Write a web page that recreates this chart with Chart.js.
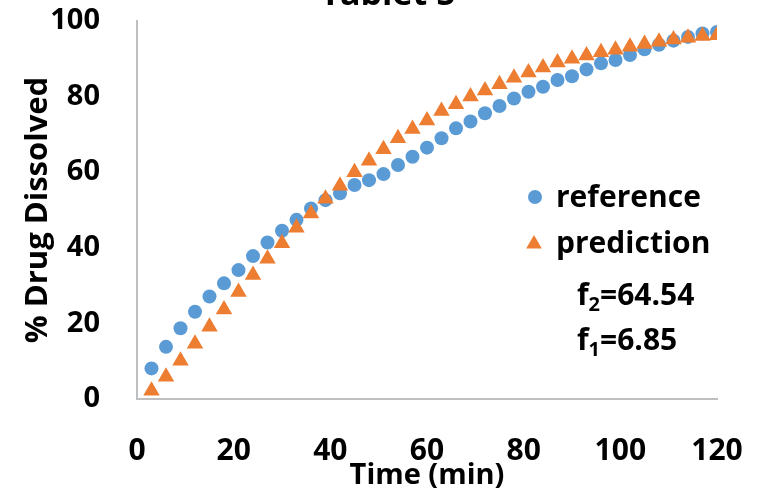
<!DOCTYPE html>
<html>
<head>
<meta charset="utf-8">
<script src="https://cdn.jsdelivr.net/npm/chart.js@4.4.1/dist/chart.umd.min.js"></script>
<style>
  html, body { margin: 0; padding: 0; background: #fff; }
  #wrap { width: 774px; height: 494px; }
</style>
</head>
<body>
<div id="wrap"><canvas id="myChart"></canvas></div>
<script>
const times = [3, 6, 9, 12, 15, 18, 21, 24, 27, 30, 33, 36, 39, 42, 45, 48, 51, 54, 57, 60,
  63, 66, 69, 72, 75, 78, 81, 84, 87, 90, 93, 96, 99, 102, 105, 108, 111, 114, 117, 120];
const reference = [8.1, 13.8, 18.7, 23.1, 27.1, 30.6, 34.1, 37.8, 41.4, 44.5, 47.4, 50.4, 52.6, 54.4, 56.6, 57.9, 59.5, 61.9, 64.1, 66.5,
  69.0, 71.6, 73.4, 75.6, 77.5, 79.5, 81.3, 82.6, 84.4, 85.4, 87.2, 88.8, 89.7, 91.0, 92.5, 93.7, 94.8, 95.8, 96.7, 97.1];
const prediction = [2.2, 5.9, 10.1, 14.6, 19.1, 23.7, 28.3, 32.8, 37.1, 41.2, 45.3, 49.1, 53.0, 56.4, 60.0, 63.0, 66.1, 69.0, 71.4, 73.7,
  76.2, 78.0, 80.0, 81.6, 83.3, 85.0, 86.4, 87.7, 89.0, 90.0, 90.9, 91.7, 92.4, 93.2, 93.9, 94.5, 95.1, 95.6, 96.0, 96.2];
const chartTitle = 'Tablet 5';
const f2Value = '64.54';
const f1Value = '6.85';

const blue = '#5B9BD5';
const orange = '#ED7D31';
const font = 'Open Sans';

const pts = (ys) => times.map((t, i) => ({x: t, y: ys[i]}));

// title (cut off at the top), legend and f values drawn by hand
const extras = {
  id: 'extras',
  afterDraw(chart) {
    const c = chart.ctx;
    c.save();
    c.fillStyle = '#000';
    c.font = 'bold 34px ' + font;
    c.textAlign = 'center';
    c.textBaseline = 'alphabetic';
    c.fillText(chartTitle, 388, 5);

    // legend
    c.textAlign = 'left';
    c.font = 'bold 30px ' + font;
    c.fillStyle = blue;
    c.beginPath(); c.arc(535, 197, 7, 0, Math.PI * 2); c.fill();
    c.fillStyle = '#000';
    c.fillText('reference', 556, 207);
    c.fillStyle = orange;
    const r = 9;
    c.beginPath();
    c.moveTo(534, 244 - r);
    c.lineTo(534 + r * 0.866, 244 + r / 2);
    c.lineTo(534 - r * 0.866, 244 + r / 2);
    c.closePath(); c.fill();
    c.fillStyle = '#000';
    c.fillText('prediction', 556, 253);

    const fLine = (sub, val, x, y) => {
      c.font = 'bold 30px ' + font;
      c.fillText('f', x, y);
      let w = c.measureText('f').width;
      c.font = 'bold 20px ' + font;
      c.fillText(sub, x + w, y + 6);
      w += c.measureText(sub).width;
      c.font = 'bold 30px ' + font;
      c.fillText('=' + val, x + w, y);
    };
    fLine('2', f2Value, 577, 305);
    fLine('1', f1Value, 577, 350);
    c.restore();
  }
};

const ctx = document.getElementById('myChart');
const myChart = new Chart(ctx, {
  type: 'scatter',
  data: {
    datasets: [{
      label: 'reference',
      data: pts(reference),
      backgroundColor: blue,
      borderColor: blue,
      pointStyle: 'circle',
      pointRadius: 7,
      borderWidth: 0,
      order: 2
    }, {
      label: 'prediction',
      data: pts(prediction),
      backgroundColor: orange,
      borderColor: orange,
      pointStyle: 'triangle',
      pointRadius: 9.5,
      borderWidth: 0,
      order: 1
    }]
  },
  options: {
    responsive: true,
    maintainAspectRatio: false,
    animation: false,
    layout: { padding: { top: 21, right: 57, left: 0, bottom: 0 } },
    plugins: {
      legend: { display: false },
      tooltip: { enabled: false }
    },
    scales: {
      x: {
        type: 'linear',
        min: 0,
        max: 120,
        afterFit: (s) => { s.height = 95; s.paddingLeft = 0; s.paddingRight = 0; },
        border: { color: '#bfbfbf', width: 2 },
        grid: { display: false, drawTicks: false },
        ticks: {
          stepSize: 20,
          padding: 34,
          color: '#000',
          font: { family: font, size: 30, weight: 'bold' },
          maxRotation: 0
        },
        title: {
          display: true,
          text: 'Time (min)',
          color: '#000',
          font: { family: font, size: 29, weight: 'bold' },
          padding: { top: 0, bottom: 1 }
        }
      },
      y: {
        min: 0,
        max: 100,
        afterFit: (s) => { s.width = 137; s.paddingTop = 0; s.paddingBottom = 0; },
        border: { color: '#bfbfbf', width: 2 },
        grid: { display: false, drawTicks: false },
        ticks: {
          stepSize: 20,
          padding: 37,
          color: '#000',
          font: { family: font, size: 29, weight: 'bold' }
        },
        title: {
          display: true,
          text: '% Drug Dissolved',
          color: '#000',
          font: { family: font, size: 31, weight: 'bold' },
          padding: { top: 20, bottom: 0 }
        }
      }
    }
  },
  plugins: [extras]
});
</script>
</body>
</html>
